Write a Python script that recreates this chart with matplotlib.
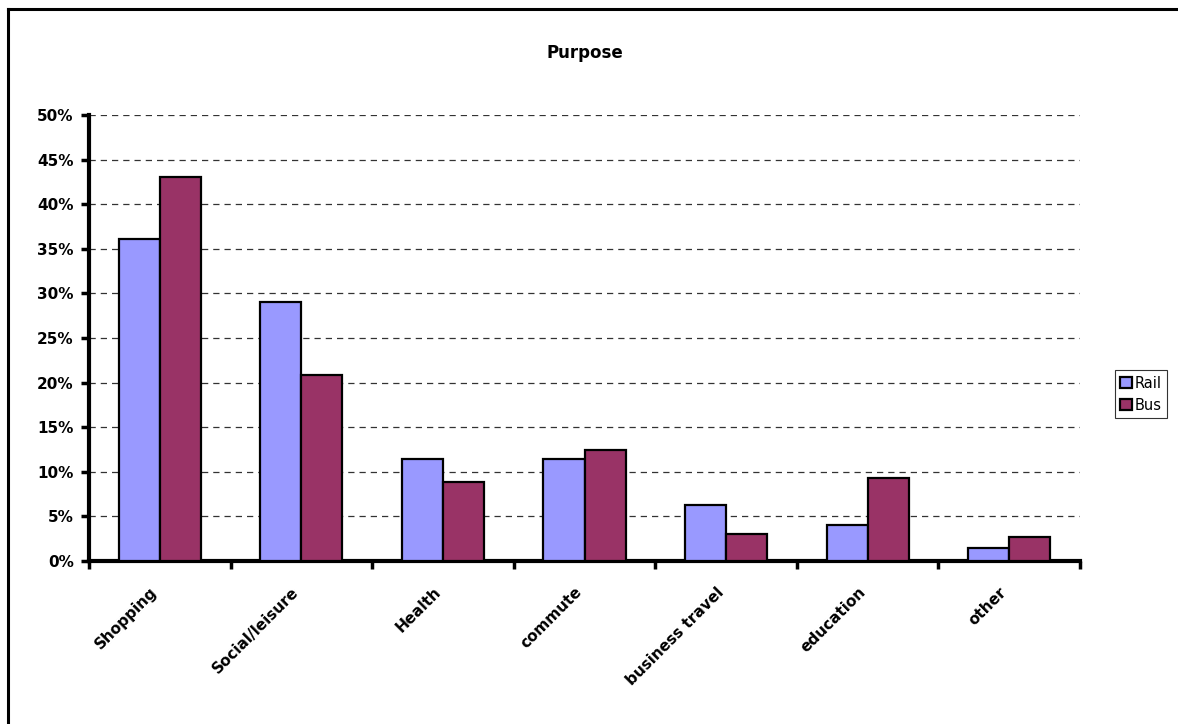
import numpy as np
import matplotlib.pyplot as plt
from matplotlib.lines import Line2D
from matplotlib.ticker import FixedLocator, NullFormatter
from matplotlib.transforms import ScaledTranslation

plt.rcParams['font.family'] = ['DejaVu Sans']

# trip purpose shares by mode
categories = ["Shopping", "Social/leisure", "Health", "commute",
              "business travel", "education", "other"]
rail = [36.1, 29.0, 11.4, 11.4, 6.3, 4.0, 1.5]
bus = [43.0, 20.9, 8.9, 12.4, 3.0, 9.3, 2.7]

RAIL_COLOR = "#9999FF"
BUS_COLOR = "#993366"

fig = plt.figure(figsize=(11.78, 7.24), dpi=100)
W, H = 1178, 724
ax = fig.add_axes([89 / W, 1 - 561 / H, (1080 - 89) / W, (561 - 115) / H])

x = np.arange(len(categories))
bw = 0.29
ax.bar(x - bw / 2, rail, bw, color=RAIL_COLOR, edgecolor="black", linewidth=1.6,
       label="Rail", zorder=3)
ax.bar(x + bw / 2, bus, bw, color=BUS_COLOR, edgecolor="black", linewidth=1.6,
       label="Bus", zorder=3)

ax.set_xlim(-0.5, len(categories) - 0.5)
ax.set_ylim(0, 50)
ax.set_yticks(np.arange(0, 51, 5))
ax.set_yticklabels([f"{v}%" for v in range(0, 51, 5)], fontsize=11, fontweight="bold")
ax.yaxis.grid(True, linestyle=(0, (5, 4)), color="#333333", linewidth=0.9, zorder=0)

# category boundary ticks below the axis, labels at the centres
ax.xaxis.set_major_locator(FixedLocator(np.arange(-0.5, len(categories), 1.0)))
ax.xaxis.set_major_formatter(NullFormatter())
ax.xaxis.set_minor_locator(FixedLocator(x))
ax.set_xticklabels(categories, minor=True, rotation=45, ha="right",
                   rotation_mode="anchor", fontsize=11, fontweight="bold")
ax.tick_params(axis="x", which="minor", length=0, pad=17)
ax.tick_params(axis="x", which="major", direction="out", length=6, width=2.5)
ax.tick_params(axis="y", direction="out", length=6, width=2.5, pad=5)
shift = ScaledTranslation(-0.1, 0, fig.dpi_scale_trans)
for lbl in ax.get_xticklabels(minor=True):
    lbl.set_transform(lbl.get_transform() + shift)

for side in ("top", "right"):
    ax.spines[side].set_visible(False)
for side in ("left", "bottom"):
    ax.spines[side].set_linewidth(3)

ax.set_title("Purpose", fontsize=12, fontweight="bold", pad=41)

leg = ax.legend(loc="center left", bbox_to_anchor=(1.028, 0.374), fontsize=10.5,
                frameon=True, fancybox=False, edgecolor="black",
                handlelength=0.8, handleheight=0.8, handletextpad=0.2,
                borderpad=0.35, labelspacing=0.5)
leg.get_frame().set_linewidth(0.8)

# chart area border (left and top edges visible)
fig.add_artist(Line2D([8 / W, 8 / W], [0, 1 - 9 / H], color="black", lw=2.2,
                      transform=fig.transFigure))
fig.add_artist(Line2D([8 / W, 1], [1 - 9 / H, 1 - 9 / H], color="black", lw=2.2,
                      transform=fig.transFigure))

fig.savefig("out.png", dpi=100)
